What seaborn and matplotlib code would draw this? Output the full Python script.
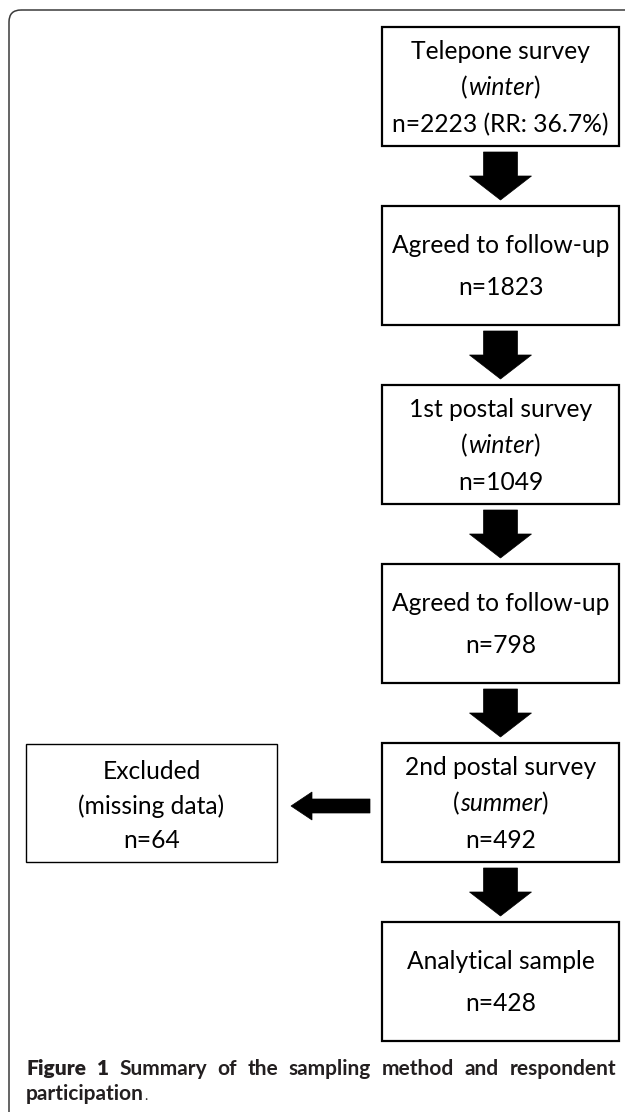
import matplotlib
matplotlib.use("Agg")
import matplotlib.pyplot as plt
import seaborn as sns
from matplotlib.patches import Rectangle, FancyBboxPatch, Polygon

# ---------------- data ----------------
stage_titles = ["Telepone survey", "Agreed to follow-up", "1st postal survey",
                "Agreed to follow-up", "2nd postal survey", "Analytical sample"]
stage_seasons = ["winter", None, "winter", None, "summer", None]
stage_counts = [2223, 1823, 1049, 798, 492, 428]
stage_extra = ["RR: 36.7%", None, None, None, None, None]
excluded_title = "Excluded"
excluded_reason = "(missing data)"
excluded_count = 64
caption_label = "Figure 1"
caption_line1 = "Summary of the sampling method and respondent"
caption_line2 = "participation"

# ---------------- style ----------------
sns.set_theme(style="white")
plt.rcParams["font.family"] = ["Lato", "DejaVu Sans"]

W, H = 625, 1112
fig = plt.figure(figsize=(W / 100, H / 100), dpi=100)
ax = fig.add_axes([0, 0, 1, 1])
ax.set_xlim(0, W)
ax.set_ylim(H, 0)
ax.axis("off")
renderer = fig.canvas.get_renderer()

BOX_FS = 17.7
TEXT_KW = dict(fontsize=BOX_FS, family=["Lato", "DejaVu Sans"], color="black")


def width_of(s, **kw):
    t = ax.text(0, 0, s, **kw)
    w = t.get_window_extent(renderer=renderer).width
    t.remove()
    return w


def draw_segments(cx, baseline, segments):
    widths = [width_of(s, **TEXT_KW, style=st) for s, st in segments]
    x = cx - sum(widths) / 2
    for (s, st), w in zip(segments, widths):
        ax.text(x, baseline, s, ha="left", va="baseline", style=st, **TEXT_KW)
        x += w


# outer rounded frame (extends past right/bottom edges)
frame = FancyBboxPatch((9, 10), 700, 1200, boxstyle="round,pad=0,rounding_size=12",
                       fill=False, edgecolor="#3a3a3a", linewidth=1.1)
ax.add_patch(frame)

# layout
bx0, bx1 = 382, 619
bcx = (bx0 + bx1) / 2
box_h = 119
step = 179
top0 = 27
three_off = [24, 60, 97]
two_off = [39, 81]
BASE_SHIFT = 8


def down_arrow(cx, y0, y1):
    sh, hh, hl = 17, 31, 24
    pts = [(cx - sh, y0), (cx + sh, y0), (cx + sh, y1 - hl), (cx + hh, y1 - hl),
           (cx, y1), (cx - hh, y1 - hl), (cx - sh, y1 - hl)]
    ax.add_patch(Polygon(pts, closed=True, facecolor="black", edgecolor="black", lw=0.5))


for i, title in enumerate(stage_titles):
    top = top0 + i * step
    ax.add_patch(Rectangle((bx0, top), bx1 - bx0, box_h, fill=False,
                           edgecolor="black", linewidth=1.6))
    lines = [[(title, "normal")]]
    if stage_seasons[i]:
        lines.append([("(", "normal"), (stage_seasons[i], "italic"), (")", "normal")])
    nline = f"n={stage_counts[i]}"
    if stage_extra[i]:
        nline += f" ({stage_extra[i]})"
    lines.append([(nline, "normal")])
    offs = three_off if len(lines) == 3 else two_off
    for segs, off in zip(lines, offs):
        draw_segments(bcx, top + off + BASE_SHIFT, segs)
    if i < len(stage_titles) - 1:
        down_arrow(bcx, top + box_h + 6, top + step - 6)

# excluded box
ex_top = top0 + 4 * step + 1
ex0, ex1 = 26, 277
ax.add_patch(Rectangle((ex0, ex_top), ex1 - ex0, box_h - 1, fill=False,
                       edgecolor="black", linewidth=1.0))
ecx = (ex0 + ex1) / 2
for s, off in zip([excluded_title, excluded_reason, f"n={excluded_count}"], [27, 62, 96]):
    draw_segments(ecx, ex_top + off + BASE_SHIFT, [(s, "normal")])

# left arrow
ay = ex_top + 62
tipx, endx = 291, 370
sh, hh, hl = 7, 14, 21
pts = [(endx, ay - sh), (endx, ay + sh), (tipx + hl, ay + sh), (tipx + hl, ay + hh),
       (tipx, ay), (tipx + hl, ay - hh), (tipx + hl, ay - sh)]
ax.add_patch(Polygon(pts, closed=True, facecolor="black", edgecolor="black", lw=0.5))

# caption (justified first line)
CAP_KW = dict(fontsize=15, family=["Lato", "DejaVu Sans"], color="#231f20")
cx0, cx1 = 26, 616
words = caption_label.split() + caption_line1.split()
weights = ["heavy"] * len(caption_label.split()) + ["bold"] * len(caption_line1.split())
ws = [width_of(w, weight=wt, **CAP_KW) for w, wt in zip(words, weights)]
gap = (cx1 - cx0 - sum(ws)) / (len(words) - 1)
x = cx0
y1 = 1075
for w, wt, wd in zip(words, weights, ws):
    ax.text(x, y1, w, ha="left", va="baseline", weight=wt, **CAP_KW)
    x += wd + gap
y2 = 1100
wp = width_of(caption_line2, weight="bold", **CAP_KW)
ax.text(cx0, y2, caption_line2, ha="left", va="baseline", weight="bold", **CAP_KW)
ax.text(cx0 + wp, y2, ".", ha="left", va="baseline", weight="normal",
        **{**CAP_KW, "fontsize": 10})

fig.savefig("out.png", dpi=100)
